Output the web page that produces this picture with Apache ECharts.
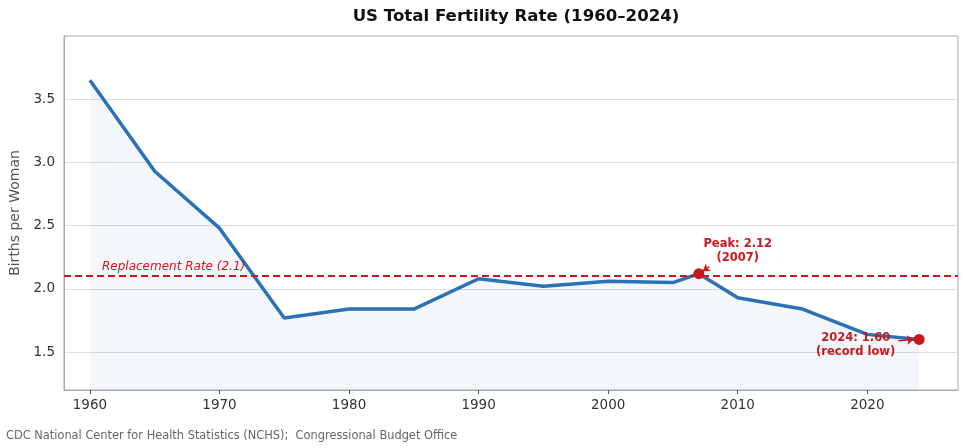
<!DOCTYPE html>
<html>
<head>
<meta charset="utf-8">
<script src="https://cdn.jsdelivr.net/npm/echarts@6/dist/echarts.min.js"></script>
<style>
  html, body { margin: 0; padding: 0; background: #fff; }
  #chart { width: 965px; height: 448px; }
</style>
</head>
<body>
<div id="chart"></div>
<script>
// data
const years = [1960, 1965, 1970, 1975, 1980, 1985, 1990, 1995, 2000, 2005, 2007, 2010, 2015, 2020, 2024];
const tfr = [3.65, 2.93, 2.48, 1.77, 1.84, 1.84, 2.08, 2.02, 2.06, 2.05, 2.12, 1.93, 1.84, 1.64, 1.60];
const replacementRate = 2.1;
const xTicks = [1960, 1970, 1980, 1990, 2000, 2010, 2020];
const yTicks = [1.5, 2.0, 2.5, 3.0, 3.5];
const highlights = [[2007, 2.12], [2024, 1.60]];
const notes = [[2010.0, 2.30, "Peak: 2.12\n(2007)"], [2019.1, 1.555, "2024: 1.60\n(record low)"]];
const arrows = [
  [[2007.8, 2.175], [2007.3, 2.14]],
  [[2022.4, 1.59], [2023.6, 1.60]]
];

const red = "#c8181c";
const blue = "#2a72b5";
const font = "DejaVu Sans";

const chart = echarts.init(document.getElementById("chart"));

chart.setOption({
  animation: false,
  textStyle: { fontFamily: font },
  title: {
    text: "US Total Fertility Rate (1960\u20132024)",
    left: 511, top: 3, textAlign: "center",
    textStyle: { fontFamily: font, fontSize: 16.6, fontWeight: "bold", color: "#111" }
  },
  graphic: [{
    type: "text", left: 6, top: 431,
    style: {
      text: "CDC National Center for Health Statistics (NCHS);  Congressional Budget Office",
      fill: "#666", font: "11.4px DejaVu Sans"
    }
  }],
  grid: {
    left: 64, right: 7, top: 36, bottom: 58,
    outerBoundsMode: "none",
    show: true, borderColor: "#aaa", borderWidth: 1
  },
  xAxis: {
    type: "value", min: 1958, max: 2027,
    axisLine: { show: true, lineStyle: { color: "#aaa" } },
    axisTick: { show: true, length: 4, customValues: xTicks, lineStyle: { color: "#555" } },
    axisLabel: {
      customValues: xTicks, color: "#333", fontSize: 13.5, margin: 8, fontFamily: font,
      formatter: v => String(v)
    },
    splitLine: { show: false }
  },
  yAxis: {
    type: "value", min: 1.2, max: 4.0,
    name: "Births per Woman", nameLocation: "middle", nameGap: 38,
    nameTextStyle: { color: "#555", fontSize: 14, fontFamily: font },
    axisLine: { show: true, lineStyle: { color: "#aaa" } },
    axisTick: { show: false, customValues: yTicks },
    axisLabel: {
      customValues: yTicks, color: "#333", fontSize: 13.5, margin: 9, fontFamily: font,
      formatter: v => v.toFixed(1)
    },
    splitLine: { show: true, lineStyle: { color: "#dedede", width: 1 } }
  },
  series: [
    {
      type: "line",
      data: years.map((y, i) => [y, tfr[i]]),
      symbol: "none",
      lineStyle: { color: blue, width: 3.5 },
      areaStyle: { color: "rgba(42,114,181,0.08)", origin: "start" },
      z: 3,
      markLine: {
        silent: true, symbol: "none",
        lineStyle: { color: red, type: [7, 4], width: 2 },
        label: {
          show: true, position: "insideStartTop", distance: [38, 3],
          formatter: "Replacement Rate (2.1)",
          color: red, fontStyle: "italic", fontSize: 12, fontFamily: font
        },
        data: [{ yAxis: replacementRate }]
      }
    },
    {
      type: "line",
      data: [],
      markLine: {
        silent: true,
        symbol: ["none", "arrow"], symbolSize: 7,
        lineStyle: { color: red, type: "solid", width: 1.5 },
        label: { show: false },
        data: arrows.map(a => [{ coord: a[0] }, { coord: a[1] }])
      }
    },
    {
      type: "scatter",
      data: highlights,
      symbolSize: 11,
      itemStyle: { color: red, opacity: 1 },
      z: 5
    },
    {
      type: "scatter",
      data: notes,
      symbolSize: 0,
      itemStyle: { opacity: 1 },
      label: {
        show: true, position: "inside",
        formatter: p => p.value[2],
        color: red, fontWeight: "bold", fontSize: 11.5, lineHeight: 14,
        fontFamily: font, align: "center"
      },
      z: 6
    }
  ]
});
</script>
</body>
</html>
